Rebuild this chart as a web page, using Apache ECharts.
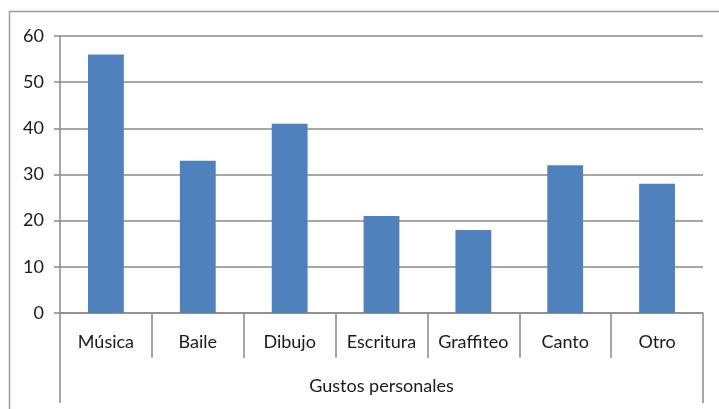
<!DOCTYPE html>
<html>
<head>
<meta charset="utf-8">
<script src="https://cdn.jsdelivr.net/npm/echarts@6/dist/echarts.min.js"></script>
<style>
  html, body { margin: 0; padding: 0; background: #fff; }
  #chart { width: 719px; height: 409px; }
</style>
</head>
<body>
<div id="chart"></div>
<script>
// Gustos personales: number of responses per activity
const categories = ['Música', 'Baile', 'Dibujo', 'Escritura', 'Graffiteo', 'Canto', 'Otro'];
const values = [56, 33, 41, 21, 18, 32, 28];
const groupLabel = ['Gustos personales'];
const yTicks = { min: 0, max: 60, interval: 10 };

const lineColor = '#8a8a8a';
const textStyle = { fontFamily: 'Lato', fontSize: 18, color: '#1a1a1a' };

const chart = echarts.init(document.getElementById('chart'), null, { renderer: 'canvas' });
chart.setOption({
  animation: false,
  backgroundColor: '#fff',
  graphic: [{
    type: 'rect',
    shape: { x: 9.5, y: 11.5, width: 800, height: 500 },
    style: { fill: 'none', stroke: '#9a9a9a', lineWidth: 1.5 },
    silent: true
  }],
  grid: { left: 60, right: 16, top: 36, bottom: 96 },
  xAxis: [{
    type: 'category',
    data: categories,
    position: 'bottom',
    axisLine: { show: true, lineStyle: { color: lineColor, width: 1.5 } },
    axisTick: { show: true, interval: 0, length: 45, lineStyle: { color: lineColor, width: 1.5 } },
    axisLabel: Object.assign({ interval: 0, margin: 20 }, textStyle)
  }, {
    type: 'category',
    data: groupLabel,
    position: 'bottom',
    axisLine: { show: false },
    axisTick: { show: true, length: 90, lineStyle: { color: lineColor, width: 1.5 } },
    axisLabel: Object.assign({ margin: 64 }, textStyle)
  }],
  yAxis: {
    type: 'value',
    min: yTicks.min,
    max: yTicks.max,
    interval: yTicks.interval,
    axisLine: { show: true, lineStyle: { color: lineColor, width: 1.5 } },
    axisTick: { show: true, length: 6, lineStyle: { color: lineColor, width: 1.5 } },
    splitLine: { show: true, lineStyle: { color: lineColor, width: 1.5 } },
    axisLabel: Object.assign({ margin: 16 }, textStyle)
  },
  series: [{
    type: 'bar',
    xAxisIndex: 0,
    data: values,
    barWidth: '39%',
    itemStyle: { color: '#4f81bd' }
  }]
});
</script>
</body>
</html>
